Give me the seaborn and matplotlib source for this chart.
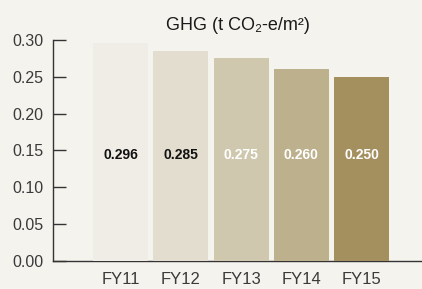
import matplotlib
matplotlib.use('Agg')
import matplotlib.pyplot as plt
import seaborn as sns
import pandas as pd

# chart data
years = ['FY11', 'FY12', 'FY13', 'FY14', 'FY15']
ghg = [0.296, 0.285, 0.275, 0.260, 0.250]
bar_colors = ['#efede6', '#e3ddcf', '#cfc8ae', '#bdb08c', '#a48f5f']
label_colors = ['#111111', '#111111', '#ffffff', '#ffffff', '#ffffff']
yticks = [0.00, 0.05, 0.10, 0.15, 0.20, 0.25, 0.30]

bg = '#f4f3ee'
sns.set_style('white')
plt.rcParams['font.family'] = ['Liberation Sans', 'DejaVu Sans']

df = pd.DataFrame({'year': years, 'ghg': ghg})

fig = plt.figure(figsize=(4.22, 2.89), dpi=100, facecolor=bg)
ax = fig.add_axes([0.1256, 0.0969, 0.8744, 0.7647])
ax.set_facecolor(bg)

sns.barplot(data=df, x='year', y='ghg', hue='year', palette=bar_colors,
            width=0.91, saturation=1, legend=False, ax=ax, zorder=3,
            linewidth=0, edgecolor='none')

for i, (v, c) in enumerate(zip(ghg, label_colors)):
    ax.text(i, 0.144, f'{v:.3f}', ha='center', va='center', color=c,
            fontsize=10, fontweight='bold')

ax.set_ylim(0, 0.30)
ax.set_xlim(-1.12, 5.0)
ax.set_yticks(yticks)
ax.set_yticklabels([f'{t:.2f}' for t in yticks])
ax.set_xlabel('')
ax.set_ylabel('')
ax.set_title('GHG (t CO\u2082-e/m\u00b2)', fontsize=13, color='#1a1a1a', pad=7)

for s in ['top', 'right']:
    ax.spines[s].set_visible(False)
for s in ['left', 'bottom']:
    ax.spines[s].set_color('#333333')
    ax.spines[s].set_linewidth(1.0)
    ax.spines[s].set_zorder(1)

ax.tick_params(axis='y', left=True, direction='in', length=9, width=1,
               color='#333333', labelsize=11.5, labelcolor='#3a3a3a', pad=7)
ax.tick_params(axis='x', bottom=False, length=0, labelsize=12,
               labelcolor='#3a3a3a', pad=8)

fig.savefig('out.png', dpi=100, facecolor=bg)
